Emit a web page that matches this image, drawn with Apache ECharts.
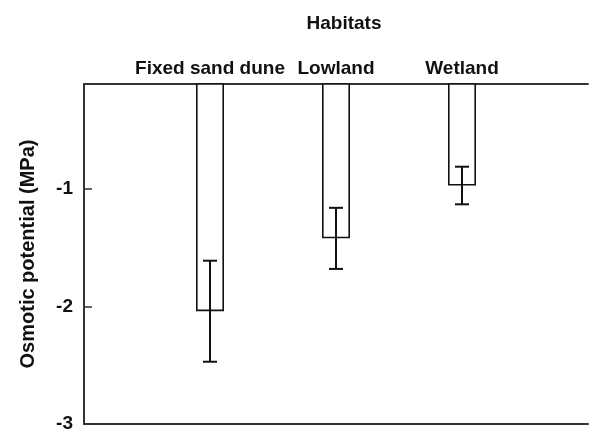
<!DOCTYPE html>
<html>
<head>
<meta charset="utf-8">
<script src="https://cdn.jsdelivr.net/npm/echarts@6/dist/echarts.min.js"></script>
<style>
html,body{margin:0;padding:0;background:#fff;}
#chart{width:591px;height:436px;}
</style>
</head>
<body>
<div id="chart"></div>
<script>
var categories = ['', 'Fixed sand dune', 'Lowland', 'Wetland', ''];
var barCats = ['Fixed sand dune', 'Lowland', 'Wetland'];
var means = [-2.04, -1.42, -0.97];
var errors = [0.43, 0.26, 0.16];
var yTicks = [-3, -2, -1];

var FONT = 'Liberation Sans, Arial, sans-serif';
var barData = categories.map(function (c) {
  var i = barCats.indexOf(c);
  return i >= 0 ? means[i] : '-';
});
var errData = barCats.map(function (c, i) {
  return [categories.indexOf(c), means[i] - errors[i], means[i] + errors[i]];
});

var chart = echarts.init(document.getElementById('chart'), null, {renderer: 'canvas'});
chart.setOption({
  animation: false,
  backgroundColor: '#ffffff',
  title: {
    text: 'Habitats', left: 339, top: 9, textAlign: 'center',
    textStyle: {fontFamily: FONT, fontWeight: 'bold', fontSize: 19, color: '#111'}
  },
  grid: {left: 84, width: 511, top: 84, height: 340, containLabel: false},
  xAxis: [{
    type: 'category', data: categories, position: 'top', boundaryGap: false,
    axisLine: {show: true, lineStyle: {color: '#333', width: 2}},
    axisTick: {show: true, inside: true, length: 5, lineStyle: {color: '#555', width: 1},
      interval: function (idx) { return idx >= 1 && idx <= 3; }},
    axisLabel: {show: true, margin: 6, fontFamily: FONT, fontWeight: 'bold', fontSize: 19, color: '#111',
      interval: 0},
    splitLine: {show: false}
  }, {
    type: 'category', data: categories, position: 'bottom', boundaryGap: false,
    axisLine: {show: true, lineStyle: {color: '#333', width: 2}},
    axisTick: {show: false}, axisLabel: {show: false}, splitLine: {show: false}
  }],
  yAxis: {
    type: 'value', min: yTicks[0], max: -0.106, interval: 1,
    name: 'Osmotic potential (MPa)', nameLocation: 'middle', nameGap: 46,
    nameTextStyle: {fontFamily: FONT, fontWeight: 'bold', fontSize: 20, color: '#111'},
    axisLine: {show: true, lineStyle: {color: '#333', width: 2}},
    axisTick: {show: true, inside: true, length: 8, lineStyle: {color: '#333', width: 1.5}},
    axisLabel: {margin: 11, showMaxLabel: false, fontFamily: FONT, fontWeight: 'bold', fontSize: 19, color: '#111',
      formatter: function (v) { return yTicks.indexOf(v) >= 0 ? String(v) : ''; }},
    splitLine: {show: false}
  },
  series: [{
    type: 'bar', xAxisIndex: 0, data: barData, barWidth: 28, clip: true,
    itemStyle: {color: '#ffffff', borderColor: '#111', borderWidth: 1.6}
  }, {
    type: 'custom', xAxisIndex: 0, data: errData, encode: {x: 0, y: [1, 2]}, z: 5,
    renderItem: function (params, api) {
      var lo = api.coord([api.value(0), api.value(1)]);
      var hi = api.coord([api.value(0), api.value(2)]);
      var w = 7;
      var st = {stroke: '#111', lineWidth: 2};
      return {type: 'group', children: [
        {type: 'line', shape: {x1: lo[0], y1: lo[1], x2: hi[0], y2: hi[1]}, style: st},
        {type: 'line', shape: {x1: lo[0] - w, y1: lo[1], x2: lo[0] + w, y2: lo[1]}, style: st},
        {type: 'line', shape: {x1: hi[0] - w, y1: hi[1], x2: hi[0] + w, y2: hi[1]}, style: st}
      ]};
    }
  }]
});
</script>
</body>
</html>
